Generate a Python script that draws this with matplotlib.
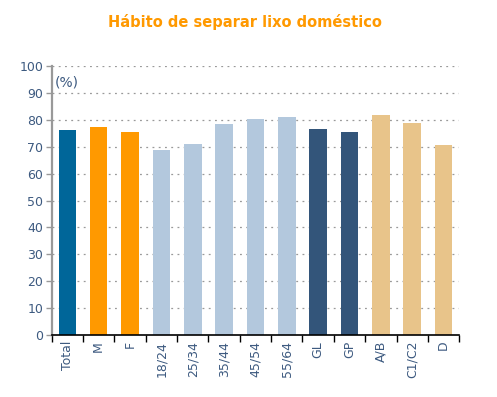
import matplotlib
matplotlib.use("Agg")
import matplotlib.pyplot as plt
import numpy as np

# data
categories = ["Total", "M", "F", "18/24", "25/34", "35/44", "45/54", "55/64",
              "GL", "GP", "A/B", "C1/C2", "D"]
values = [76.3, 77.4, 75.5, 68.9, 71.1, 78.4, 80.4, 81.1, 76.7, 75.3, 81.9, 78.9, 70.7]
groups = ["total", "sexo", "sexo", "idade", "idade", "idade", "idade", "idade",
          "regiao", "regiao", "classe", "classe", "classe"]

group_colors = {
    "total": "#006699",
    "sexo": "#ff9900",
    "idade": "#b3c8dd",
    "regiao": "#33557a",
    "classe": "#e8c48a",
}
text_color = "#3d5a80"

fig = plt.figure(figsize=(4.97, 3.97), dpi=100)
ax = fig.add_axes([0.104, 0.1554, 0.82, 0.6791])

x = np.arange(len(categories))
ax.bar(x, values, width=0.56, color=[group_colors[g] for g in groups], zorder=3)

ax.set_xlim(-0.5, len(categories) - 0.5)
ax.set_ylim(0, 100)
ax.set_yticks(range(0, 101, 10))
ax.yaxis.grid(True, color="#999999", linestyle=(0, (1.5, 3.5)), linewidth=0.9, zorder=0)

# category labels at the centres, tick marks at the boundaries
ax.set_xticks(x)
ax.set_xticklabels(categories, rotation=90, color=text_color, fontsize=9)
ax.set_xticks(np.arange(-0.5, len(categories)), minor=True)
ax.tick_params(axis="x", which="major", length=0, pad=4)
ax.tick_params(axis="x", which="minor", length=5, width=1, color="black")
ax.tick_params(axis="y", length=4, width=1, color="#999999", labelcolor=text_color,
               labelsize=9, pad=2)

for s in ["top", "right"]:
    ax.spines[s].set_visible(False)
ax.spines["left"].set_color("#999999")
ax.spines["left"].set_linewidth(1.6)
ax.spines["bottom"].set_color("black")
ax.spines["bottom"].set_linewidth(1.2)
ax.spines["bottom"].set_zorder(4)

ax.text(0.008, 0.965, "(%)", transform=ax.transAxes, color=text_color, fontsize=10,
        va="top", ha="left")

fig.text(0.492, 0.945, "Hábito de separar lixo doméstico", color="#ff9900",
         fontsize=10.5, fontweight="bold", ha="center", va="center")

fig.savefig("out.png", dpi=100)
